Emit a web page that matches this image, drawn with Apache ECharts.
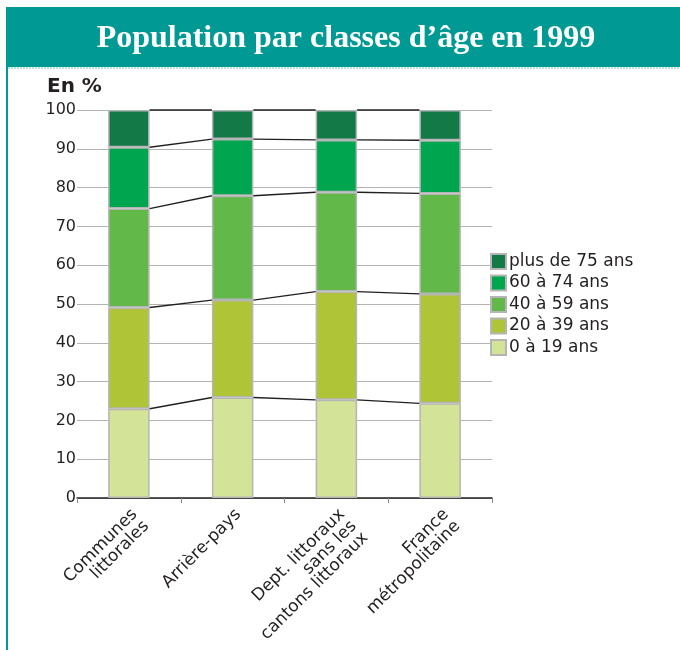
<!DOCTYPE html>
<html>
<head>
<meta charset="utf-8">
<style>
  html, body { margin: 0; padding: 0; background: #fff; }
  #chart { width: 680px; height: 650px; }
</style>
<script src="https://cdn.jsdelivr.net/npm/echarts@6/dist/echarts.min.js"></script>
</head>
<body>
<div id="chart"></div>
<script>
// categories and age-group shares (%)
const categories = [
  'Communes\nlittorales',
  'Arrière-pays',
  'Dept. littoraux\nsans les\ncantons littoraux',
  'France\nmétropolitaine'
]
const age0to19 = [23.0, 25.9, 25.3, 24.4]
const age20to39 = [26.1, 25.1, 27.9, 28.2]
const age40to59 = [25.5, 26.9, 25.6, 25.9]
const age60to74 = [15.8, 14.6, 13.5, 13.7]
const age75plus = [9.6, 7.5, 7.7, 7.8]
const yTicks = [0, 10, 20, 30, 40, 50, 60, 70, 80, 90, 100]

const groups = [
  { name: '0 à 19 ans', data: age0to19, color: '#d3e397' },
  { name: '20 à 39 ans', data: age20to39, color: '#afc437' },
  { name: '40 à 59 ans', data: age40to59, color: '#62b94a' },
  { name: '60 à 74 ans', data: age60to74, color: '#00a54f' },
  { name: 'plus de 75 ans', data: age75plus, color: '#137a47' }
]

const BAR_RATIO = 0.4

// connector segments: top of each stack level, bar i -> bar i+1
const connectors = []
const running = categories.map(() => 0)
groups.forEach(g => {
  g.data.forEach((v, i) => { running[i] += v })
  for (let i = 0; i < categories.length - 1; i++) {
    connectors.push([i, running[i], running[i + 1]])
  }
})

const chart = echarts.init(document.getElementById('chart'))

const barSeries = groups.map(g => ({
  name: g.name,
  type: 'bar',
  stack: 'age',
  barWidth: (BAR_RATIO * 100) + '%',
  data: g.data,
  itemStyle: {
    color: g.color,
    borderColor: '#b5b5b5',
    borderWidth: 1.5
  },
  emphasis: { disabled: true }
}))

chart.setOption({
  animation: false,
  textStyle: { fontFamily: 'DejaVu Sans' },
  title: [{
    text: 'Population par classes d’âge en 1999',
    left: 346,
    top: 23,
    padding: 0,
    textAlign: 'center',
    textStyle: {
      fontFamily: 'Liberation Serif',
      fontWeight: 'bold',
      fontSize: 32,
      color: '#fff'
    }
  }, {
    text: 'En %',
    left: 47,
    top: 77,
    padding: 0,
    textStyle: {
      fontFamily: 'DejaVu Sans',
      fontWeight: 'bold',
      fontSize: 20,
      color: '#231f20'
    }
  }],
  graphic: [
    { type: 'rect', z: -1, shape: { x: 6, y: 7, width: 674, height: 60 }, style: { fill: '#009994' } },
    { type: 'rect', z: -1, shape: { x: 6, y: 67, width: 2, height: 583 }, style: { fill: '#009994' } },
    { type: 'line', z: -1, shape: { x1: 8, y1: 68, x2: 680, y2: 68 }, style: { stroke: '#7cc9c5', lineWidth: 1, lineDash: [2, 1] } }
  ],
  legend: {
    orient: 'vertical',
    left: 490,
    top: 253,
    padding: 0,
    icon: 'rect',
    itemWidth: 15,
    itemHeight: 15,
    itemGap: 4.5,
    data: groups.map(g => g.name).reverse(),
    textStyle: { fontSize: 17, color: '#231f20', padding: [0, 0, 0, -2] },
    selectedMode: false
  },
  grid: {
    left: 77,
    right: 188,
    top: 110,
    bottom: 152
  },
  xAxis: {
    type: 'category',
    data: categories,
    axisLine: { lineStyle: { color: '#231f20', width: 1.5 } },
    axisTick: { show: true, length: 5, lineStyle: { color: '#888' } },
    axisLabel: {
      rotate: 45,
      margin: 8,
      align: 'right',
      verticalAlign: 'top',
      color: '#231f20',
      fontSize: 17,
      lineHeight: 16.5,
      interval: 0
    }
  },
  yAxis: {
    type: 'value',
    min: yTicks[0],
    max: yTicks[yTicks.length - 1],
    interval: yTicks[1] - yTicks[0],
    axisLine: { show: false },
    axisTick: { show: false },
    axisLabel: { margin: 1, fontSize: 16, color: '#231f20', padding: [6, 0, 0, 0] },
    splitLine: { lineStyle: { color: '#b3b3b3', width: 1.2 } }
  },
  series: barSeries.concat([{
    type: 'custom',
    name: 'liens',
    data: connectors,
    encode: { x: 0, y: [1, 2] },
    z: 3,
    silent: true,
    renderItem(params, api) {
      const i = api.value(0)
      const half = api.size([1, 0])[0] * BAR_RATIO / 2
      const p1 = api.coord([i, api.value(1)])
      const p2 = api.coord([i + 1, api.value(2)])
      return {
        type: 'line',
        shape: { x1: p1[0] + half, y1: p1[1], x2: p2[0] - half, y2: p2[1] },
        style: { stroke: '#231f20', lineWidth: 1.3 }
      }
    }
  }])
})
</script>
</body>
</html>
